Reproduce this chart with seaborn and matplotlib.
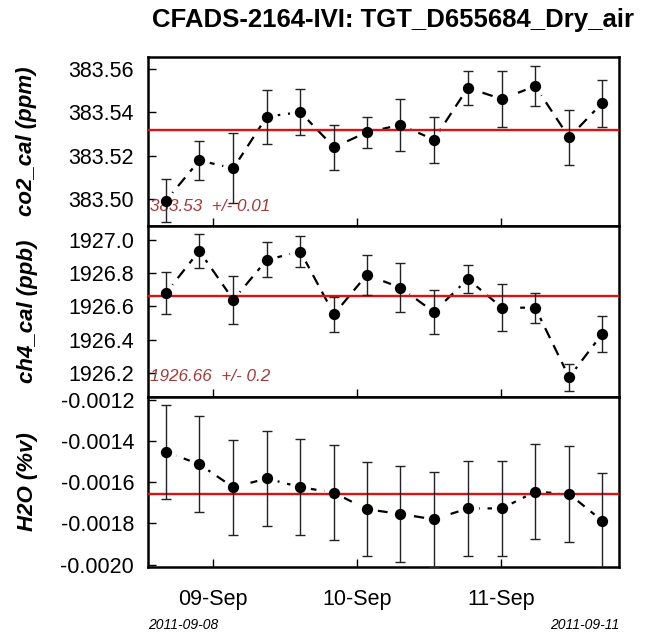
import matplotlib
matplotlib.use("Agg")
import matplotlib.pyplot as plt
import matplotlib.dates as mdates
import matplotlib.ticker as mticker
import pandas as pd
import seaborn as sns

# ---------------- data ----------------
times = ["2011-09-08 16:13", "2011-09-08 21:46", "2011-09-09 03:26", "2011-09-09 09:00",
         "2011-09-09 14:36", "2011-09-09 20:12", "2011-09-10 01:39", "2011-09-10 07:16",
         "2011-09-10 12:50", "2011-09-10 18:30", "2011-09-11 00:10", "2011-09-11 05:43",
         "2011-09-11 11:22", "2011-09-11 16:50"]

co2 = [383.4993, 383.5178, 383.5142, 383.5380, 383.5401, 383.5239, 383.5308,
       383.5342, 383.5274, 383.5513, 383.5461, 383.5521, 383.5284, 383.5442]
co2_err = [0.0100, 0.0091, 0.0161, 0.0124, 0.0106, 0.0103, 0.0071,
           0.0121, 0.0106, 0.0078, 0.0130, 0.0091, 0.0127, 0.0109]

ch4 = [1926.681, 1926.934, 1926.639, 1926.880, 1926.930, 1926.552, 1926.789,
       1926.713, 1926.566, 1926.765, 1926.592, 1926.592, 1926.173, 1926.432]
ch4_err = [0.125, 0.103, 0.143, 0.106, 0.092, 0.106, 0.120,
           0.148, 0.130, 0.086, 0.140, 0.091, 0.082, 0.107]

h2o = [-0.001453, -0.001513, -0.001625, -0.001582, -0.001624, -0.001651, -0.001731,
       -0.001754, -0.001780, -0.001727, -0.001727, -0.001646, -0.001657, -0.001786]
h2o_err = [0.000229, 0.000233, 0.000231, 0.000230, 0.000231, 0.000231, 0.000229,
           0.000231, 0.000231, 0.000230, 0.000230, 0.000231, 0.000231, 0.000231]

co2_mean, ch4_mean, h2o_mean = 383.532, 1926.664, -0.001658
co2_note = "383.53  +/- 0.01"
ch4_note = "1926.66  +/- 0.2"

y_labels = ["co2_cal (ppm)", "ch4_cal (ppb)", "H2O (%v)"]
co2_ticks = [383.50, 383.52, 383.54, 383.56]
ch4_ticks = [1926.2, 1926.4, 1926.6, 1926.8, 1927.0]
h2o_ticks = [-0.0020, -0.0018, -0.0016, -0.0014, -0.0012]

title = "CFADS-2164-IVI: TGT_D655684_Dry_air"
start_label, end_label = "2011-09-08", "2011-09-11"

df = pd.DataFrame({"time": pd.to_datetime(times),
                   "co2": co2, "co2_err": co2_err,
                   "ch4": ch4, "ch4_err": ch4_err,
                   "h2o": h2o, "h2o_err": h2o_err})

# ---------------- style ----------------
sns.set_theme(style="ticks")
plt.rcParams["font.family"] = ["Liberation Sans", "DejaVu Sans"]
plt.rcParams["text.color"] = "black"

fig = plt.figure(figsize=(6.49, 6.35), dpi=100)
left, width = 0.228, 0.7257
panels = [
    dict(key="co2", err="co2_err", mean=co2_mean, ticks=co2_ticks, fmt="%.2f",
         ylim=(383.4876, 383.5655), pos=(0.6441, 0.2661), note=co2_note, note_y=0.114,
         ylabel=y_labels[0]),
    dict(key="ch4", err="ch4_err", mean=ch4_mean, ticks=ch4_ticks, fmt="%.1f",
         ylim=(1926.054, 1927.084), pos=(0.3748, 0.2693), note=ch4_note, note_y=0.119,
         ylabel=y_labels[1]),
    dict(key="h2o", err="h2o_err", mean=h2o_mean, ticks=h2o_ticks, fmt="%.4f",
         ylim=(-0.002011, -0.001187), pos=(0.1071, 0.2677), note=None, note_y=None,
         ylabel=y_labels[2]),
]

prev = None
axes = []
for p in panels:
    b, h = p["pos"]
    ax = fig.add_axes([left, b, width, h], sharex=prev)
    prev = ax
    axes.append(ax)
    sns.lineplot(data=df, x="time", y=p["key"], ax=ax, color="black", lw=1.6,
                 linestyle=(0, (5, 3.5)), zorder=1, legend=False)
    sns.scatterplot(data=df, x="time", y=p["key"], ax=ax, color="white", s=230,
                    linewidth=0, zorder=2, legend=False)
    ax.axhline(p["mean"], color="#dd1111", lw=1.7, zorder=3)
    ax.errorbar(df["time"], df[p["key"]], yerr=df[p["err"]], fmt="none",
                ecolor="#222222", elinewidth=1.0, capsize=3.3, capthick=1.0, zorder=4)
    sns.scatterplot(data=df, x="time", y=p["key"], ax=ax, color="black", s=66,
                    linewidth=0, zorder=5, legend=False)
    ax.set_ylim(*p["ylim"])
    ax.set_yticks(p["ticks"])
    ax.yaxis.set_major_formatter(mticker.FormatStrFormatter(p["fmt"]))
    ax.set_xlabel("")
    ax.set_ylabel("")
    ax.tick_params(axis="both", direction="in", length=6, width=1.0,
                   labelsize=15.5, colors="black")
    ax.tick_params(axis="y", pad=10)
    ax.tick_params(axis="x", pad=16)
    for s in ax.spines.values():
        s.set_linewidth(1.8)
        s.set_color("black")
        s.set_visible(True)
    if p["note"]:
        ax.text(0.005, p["note_y"], p["note"], transform=ax.transAxes,
                color="#a33a3a", style="italic", fontsize=12.3, va="center", ha="left")
    yc = b + h / 2
    fig.text(27 / 649, yc, p["ylabel"], rotation=90, ha="center", va="center",
             fontsize=16, fontweight="bold", style="italic")

for ax in axes:
    ax.xaxis.set_major_locator(mdates.DayLocator())
    ax.xaxis.set_major_formatter(mdates.DateFormatter("%d-%b"))
for ax in axes[:-1]:
    ax.tick_params(labelbottom=False)
axes[-1].set_xlim(pd.Timestamp("2011-09-08 13:13"), pd.Timestamp("2011-09-11 19:40"))

fig.text(0.606, 0.9685, title, ha="center", va="center", fontsize=18.5, fontweight="bold")
fig.text(148 / 649, 0.0157, start_label, ha="left", va="center", fontsize=10, style="italic")
fig.text(619 / 649, 0.0157, end_label, ha="right", va="center", fontsize=10, style="italic")

fig.savefig("out.png", dpi=100, facecolor="white")
